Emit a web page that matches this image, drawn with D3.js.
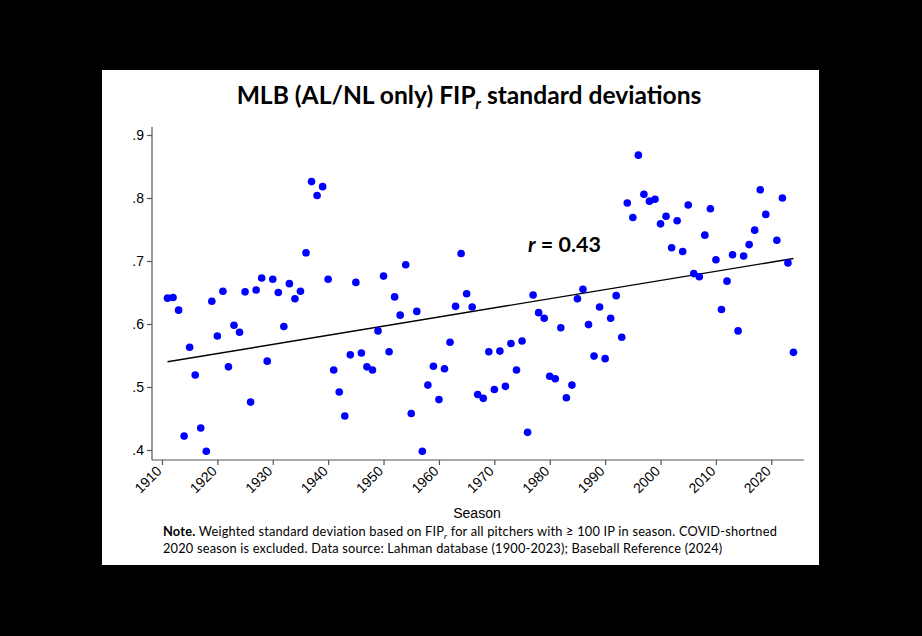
<!DOCTYPE html>
<html><head><meta charset="utf-8">
<script src="https://cdn.jsdelivr.net/npm/d3@7"></script>
<style>
html,body{margin:0;padding:0;background:#000;}
svg{display:block;}
</style></head>
<body>
<script>
// Data
const seasons = [1911,1912,1913,1914,1915,1916,1917,1918,1919,1920,
 1921,1922,1923,1924,1925,1926,1927,1928,1929,1930,
 1931,1932,1933,1934,1935,1936,1937,1938,1939,1940,
 1941,1942,1943,1944,1945,1946,1947,1948,1949,1950,
 1951,1952,1953,1954,1955,1956,1957,1958,1959,1960,
 1961,1962,1963,1964,1965,1966,1967,1968,1969,1970,
 1971,1972,1973,1974,1975,1976,1977,1978,1979,1980,
 1981,1982,1983,1984,1985,1986,1987,1988,1989,1990,
 1991,1992,1993,1994,1995,1996,1997,1998,1999,2000,
 2001,2002,2003,2004,2005,2006,2007,2008,2009,2010,
 2011,2012,2013,2014,2015,2016,2017,2018,2019,
 2021,2022,2023,2024];
const sdValues = [0.641,0.642,0.622,0.422,0.563,0.519,0.435,0.398,0.636,0.581,
 0.652,0.532,0.598,0.587,0.651,0.476,0.654,0.673,0.541,0.671,
 0.650,0.596,0.664,0.640,0.652,0.713,0.826,0.804,0.818,0.671,
 0.527,0.492,0.454,0.551,0.666,0.554,0.532,0.527,0.589,0.676,
 0.556,0.643,0.614,0.694,0.458,0.620,0.398,0.503,0.533,0.480,
 0.529,0.571,0.628,0.712,0.648,0.627,0.488,0.482,0.556,0.496,
 0.557,0.501,0.569,0.527,0.573,0.428,0.646,0.618,0.609,0.517,
 0.513,0.594,0.483,0.503,0.640,0.655,0.599,0.549,0.627,0.545,
 0.609,0.645,0.579,0.792,0.769,0.868,0.806,0.795,0.798,0.759,
 0.771,0.721,0.764,0.715,0.789,0.680,0.675,0.741,0.783,0.702,
 0.623,0.668,0.710,0.589,0.708,0.726,0.749,0.813,0.774,
 0.733,0.800,0.697,0.555];
const fitSeasons = [1911, 2024];
const fitValues = [0.540, 0.704];
const yTicks = [0.4,0.5,0.6,0.7,0.8,0.9];
const xTicks = [1910,1920,1930,1940,1950,1960,1970,1980,1990,2000,2010,2020];
const titleMain = "MLB (AL/NL only) FIP";
const titleSub = "r";
const titleRest = " standard deviations";
const xTitle = "Season";
const rLabel = "0.43";

const W = 922, H = 636;
const svg = d3.select("body").append("svg").attr("width", W).attr("height", H);
svg.append("rect").attr("width", W).attr("height", H).attr("fill", "#000");
svg.append("rect").attr("x", 102).attr("y", 70).attr("width", 717).attr("height", 495).attr("fill", "#fff");

const x = d3.scaleLinear().domain([1908.2, 2025.9]).range([152, 804]);
const y = d3.scaleLinear().domain([0.3841, 0.9127]).range([460, 127]);

const axisColor = "#555";
const tickFont = "'Liberation Sans', Arial, sans-serif";
const calFont = "Lato, 'Open Sans', sans-serif";

// Y axis
const yAxis = svg.append("g").attr("transform", "translate(152,0)")
  .call(d3.axisLeft(y).tickValues(yTicks).tickSize(5).tickPadding(3)
    .tickFormat(d => d3.format(".1f")(d).replace(/^0/, "")));
// X axis
const xAxis = svg.append("g").attr("transform", "translate(0,460)")
  .call(d3.axisBottom(x).tickValues(xTicks).tickSize(5).tickFormat(d3.format("d")));
[yAxis, xAxis].forEach(g => {
  g.select(".domain").attr("stroke", axisColor).attr("stroke-width", 1.2);
  g.selectAll(".tick line").attr("stroke", axisColor).attr("stroke-width", 1.2);
  g.selectAll("text").attr("fill", "#000").style("font-family", tickFont).style("font-size", "14px");
});
yAxis.select(".domain").attr("d", `M-0,127V460`);
xAxis.select(".domain").attr("d", `M152,0H804`);
xAxis.selectAll(".tick text")
  .attr("text-anchor", "end")
  .attr("dy", null).attr("y", null)
  .attr("transform", "translate(0,12) rotate(-45)");

// Fit line
svg.append("path")
  .attr("d", d3.line()(fitSeasons.map((s, i) => [x(s), y(fitValues[i])])))
  .attr("stroke", "#000").attr("stroke-width", 1.4).attr("fill", "none");

// Points
svg.append("g").selectAll("circle").data(seasons).join("circle")
  .attr("cx", d => x(d)).attr("cy", (d, i) => y(sdValues[i]))
  .attr("r", 3.8).attr("fill", "#0000ff");

// Title
const t = svg.append("text").attr("x", 469).attr("y", 103.5).attr("text-anchor", "middle")
  .style("font-family", calFont).style("font-weight", "bold").style("font-size", "24.6px").attr("fill", "#000");
t.append("tspan").text(titleMain);
t.append("tspan").text(titleSub).attr("font-style", "italic").attr("font-size", "15px").attr("dy", 5);
t.append("tspan").text(titleRest).attr("dy", -5);

// r annotation
const r = svg.append("text").attr("x", 528).attr("y", 252)
  .style("font-family", calFont).style("font-weight", "bold").style("font-size", "21.5px").attr("fill", "#000");
r.append("tspan").text("r").attr("font-style", "italic");
r.append("tspan").text(" = " + rLabel);

// X title
svg.append("text").attr("x", 477).attr("y", 518).attr("text-anchor", "middle")
  .style("font-family", tickFont).style("font-size", "14px").attr("fill", "#000").text(xTitle);

// Note
const n1 = svg.append("text").attr("x", 163).attr("y", 535.5)
  .style("font-family", calFont).style("font-size", "12.8px").style("letter-spacing", "0.2px").attr("fill", "#000");
n1.append("tspan").text("Note.").attr("font-weight", "bold");
n1.append("tspan").text(" Weighted standard deviation based on FIP");
n1.append("tspan").text("r").attr("font-style", "italic").attr("font-size", "8.5px").attr("dy", 3);
n1.append("tspan").text(" for all pitchers with \u2265 100 IP in season. COVID-shortned").attr("dy", -3);
svg.append("text").attr("x", 163).attr("y", 553)
  .style("font-family", calFont).style("font-size", "12.8px").style("letter-spacing", "0.2px").attr("fill", "#000")
  .text("2020 season is excluded. Data source: Lahman database (1900-2023); Baseball Reference (2024)");
</script>
</body></html>
